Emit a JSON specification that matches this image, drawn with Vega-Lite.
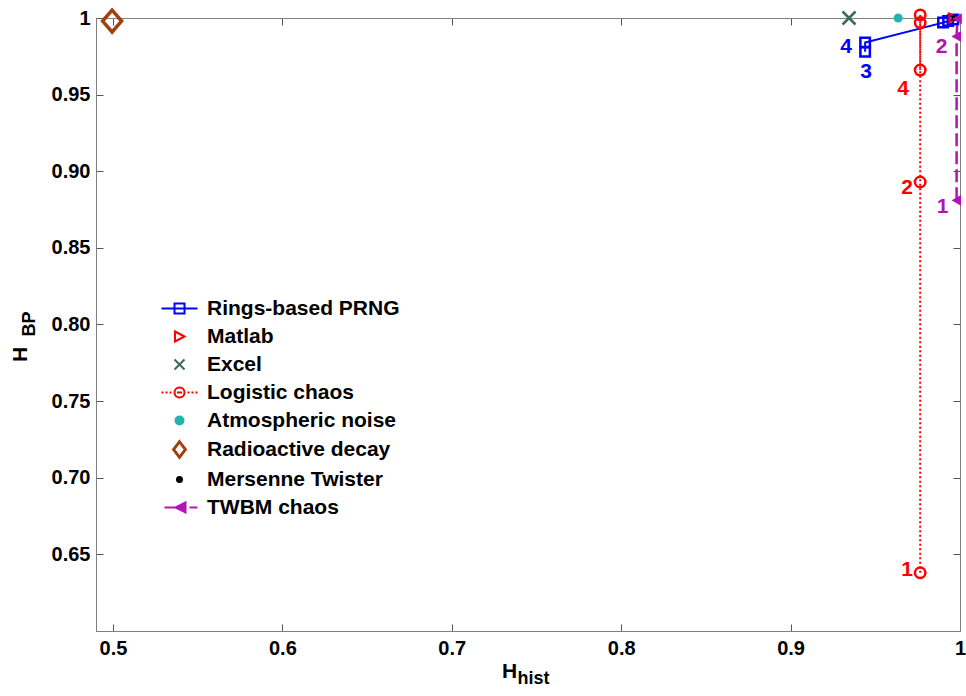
{
  "$schema": "https://vega.github.io/schema/vega-lite/v6.json",
  "width": 864,
  "height": 613,
  "autosize": {"type": "none"},
  "padding": {"left": 96, "top": 18, "right": 6, "bottom": 65},
  "background": "white",
  "config": {
    "view": {"stroke": "#808080", "strokeWidth": 1},
    "font": "Liberation Sans"
  },
  "datasets": {
    "pts": [
      {"series": "Rings-based PRNG", "seq": 1, "hist": 0.944, "bp": 0.978, "label": "3"},
      {"series": "Rings-based PRNG", "seq": 2, "hist": 0.944, "bp": 0.984, "label": "4"},
      {"series": "Rings-based PRNG", "seq": 3, "hist": 0.990, "bp": 0.997, "label": ""},
      {"series": "Rings-based PRNG", "seq": 4, "hist": 0.993, "bp": 0.998, "label": ""},
      {"series": "Rings-based PRNG", "seq": 5, "hist": 0.996, "bp": 0.999, "label": ""},
      {"series": "Matlab", "seq": 1, "hist": 0.996, "bp": 1.0, "label": ""},
      {"series": "Excel", "seq": 1, "hist": 0.9345, "bp": 1.0, "label": ""},
      {"series": "Logistic chaos", "seq": 1, "hist": 0.9765, "bp": 0.638, "label": "1"},
      {"series": "Logistic chaos", "seq": 2, "hist": 0.9765, "bp": 0.893, "label": "2"},
      {"series": "Logistic chaos", "seq": 3, "hist": 0.9765, "bp": 1.002, "label": ""},
      {"series": "Logistic chaos", "seq": 4, "hist": 0.9765, "bp": 0.966, "label": "4"},
      {"series": "Logistic chaos", "seq": 5, "hist": 0.9765, "bp": 0.997, "label": ""},
      {"series": "Atmospheric noise", "seq": 1, "hist": 0.9635, "bp": 1.0, "label": ""},
      {"series": "Radioactive decay", "seq": 1, "hist": 0.4995, "bp": 0.998, "label": ""},
      {"series": "Mersenne Twister", "seq": 1, "hist": 0.997, "bp": 1.0, "label": ""},
      {"series": "TWBM chaos", "seq": 1, "hist": 0.998, "bp": 0.881, "label": "1"},
      {"series": "TWBM chaos", "seq": 2, "hist": 0.998, "bp": 0.988, "label": "2"},
      {"series": "TWBM chaos", "seq": 3, "hist": 0.9985, "bp": 0.9995, "label": ""}
    ]
  },
  "data": {"name": "pts"},
  "resolve": {"axis": {"x": "independent", "y": "independent"}},
  "layer": [
    {
      "transform": [{"filter": "datum.series == 'Rings-based PRNG'"}],
      "mark": {"type": "line", "color": "#0000ff", "strokeWidth": 2},
      "encoding": {
        "x": {"field": "hist", "type": "quantitative",
          "scale": {"domain": [0.49, 1], "nice": false, "zero": false},
          "axis": {"orient": "bottom", "values": [0.5, 0.6, 0.7, 0.8, 0.9, 1], "grid": false,
            "labelFont": "Liberation Sans", "labelFontSize": 20, "labelFontWeight": "bold", "labelColor": "black",
            "labelFlush": false, "labelPadding": 14, "labelExpr": "format(datum.value, '.1~f')",
            "tickSize": -7, "tickColor": "#555555", "domainColor": "#808080",
            "title": "H", "titleFont": "Liberation Sans", "titleFontSize": 21, "titleFontWeight": "bold", "titleColor": "black",
            "titleX": 413, "titleY": 46, "titleAlign": "center", "titleBaseline": "alphabetic"}},
        "y": {"field": "bp", "type": "quantitative",
          "scale": {"domain": [0.6, 1], "nice": false, "zero": false},
          "axis": {"orient": "left", "values": [0.65, 0.7, 0.75, 0.8, 0.85, 0.9, 0.95, 1], "grid": false,
            "labelFont": "Liberation Sans", "labelFontSize": 20, "labelFontWeight": "bold", "labelColor": "black",
            "labelFlush": false, "labelPadding": 13, "labelExpr": "datum.value == 1 ? '1' : format(datum.value, '.2f')",
            "tickSize": -7, "tickColor": "#555555", "domainColor": "#808080",
            "title": "H", "titleFont": "Liberation Sans", "titleFontSize": 21, "titleFontWeight": "bold", "titleColor": "black",
            "titleAngle": 270, "titleX": -70, "titleY": 336, "titleAlign": "center", "titleBaseline": "alphabetic"}},
        "order": {"field": "seq", "type": "quantitative"}
      }
    },
    {
      "transform": [{"filter": "datum.series == 'Logistic chaos'"}],
      "mark": {"type": "line", "color": "#ff0000", "strokeWidth": 2, "strokeDash": [2, 2.5]},
      "encoding": {
        "x": {"field": "hist", "type": "quantitative",
          "axis": {"orient": "bottom", "labels": false, "ticks": false, "domain": false, "grid": false,
            "title": "hist", "titleFont": "Liberation Sans", "titleFontSize": 18, "titleFontWeight": "bold", "titleColor": "black",
            "titleX": 421, "titleY": 52, "titleAlign": "left", "titleBaseline": "alphabetic"}},
        "y": {"field": "bp", "type": "quantitative",
          "axis": {"orient": "left", "labels": false, "ticks": false, "domain": false, "grid": false,
            "title": "BP", "titleFont": "Liberation Sans", "titleFontSize": 18, "titleFontWeight": "bold", "titleColor": "black",
            "titleAngle": 270, "titleX": -62, "titleY": 318, "titleAlign": "left", "titleBaseline": "alphabetic"}},
        "order": {"field": "seq", "type": "quantitative"}
      }
    },
    {
      "transform": [{"filter": "datum.series == 'TWBM chaos'"}],
      "mark": {"type": "line", "color": "#b512b5", "strokeWidth": 2.5, "strokeDash": [13, 5]},
      "encoding": {
        "x": {"field": "hist", "type": "quantitative",
          "axis": {"orient": "top", "values": [0.5, 0.6, 0.7, 0.8, 0.9, 1], "labels": false, "grid": false,
            "tickSize": -7, "tickColor": "#555555", "domainColor": "#808080", "title": null}},
        "y": {"field": "bp", "type": "quantitative",
          "axis": {"orient": "right", "values": [0.65, 0.7, 0.75, 0.8, 0.85, 0.9, 0.95, 1], "labels": false, "grid": false,
            "tickSize": -7, "tickColor": "#555555", "domainColor": "#808080", "title": null}},
        "order": {"field": "seq", "type": "quantitative"}
      }
    },
    {
      "transform": [{"filter": "datum.series == 'Rings-based PRNG'"}],
      "mark": {"type": "point", "shape": "square", "filled": false, "stroke": "#0000ff", "strokeWidth": 2.5, "size": 90, "opacity": 1},
      "encoding": {
        "x": {"field": "hist", "type": "quantitative", "axis": null},
        "y": {"field": "bp", "type": "quantitative", "axis": null}
      }
    },
    {
      "transform": [{"filter": "datum.series == 'Logistic chaos'"}],
      "mark": {"type": "point", "shape": "circle", "filled": false, "stroke": "#ff0000", "strokeWidth": 2.5, "size": 110, "opacity": 1},
      "encoding": {
        "x": {"field": "hist", "type": "quantitative", "axis": null},
        "y": {"field": "bp", "type": "quantitative", "axis": null}
      }
    },
    {
      "transform": [{"filter": "datum.series == 'Excel'"}],
      "mark": {"type": "point", "shape": "M-1,-1L1,1M-1,1L1,-1", "filled": false, "stroke": "#3b6b58", "strokeWidth": 2.5, "size": 169, "opacity": 1},
      "encoding": {
        "x": {"field": "hist", "type": "quantitative", "axis": null},
        "y": {"field": "bp", "type": "quantitative", "axis": null}
      }
    },
    {
      "transform": [{"filter": "datum.series == 'Atmospheric noise'"}],
      "mark": {"type": "point", "shape": "circle", "filled": true, "fill": "#22b4b0", "strokeWidth": 0, "size": 80, "opacity": 1},
      "encoding": {
        "x": {"field": "hist", "type": "quantitative", "axis": null},
        "y": {"field": "bp", "type": "quantitative", "axis": null}
      }
    },
    {
      "transform": [{"filter": "datum.series == 'Radioactive decay'"}],
      "mark": {"type": "point", "shape": "M0,-1.15L1,0L0,1.15L-1,0Z", "filled": false, "stroke": "#a23f0e", "strokeWidth": 3.5, "size": 361, "opacity": 1},
      "encoding": {
        "x": {"field": "hist", "type": "quantitative", "axis": null},
        "y": {"field": "bp", "type": "quantitative", "axis": null}
      }
    },
    {
      "transform": [{"filter": "datum.series == 'Matlab'"}],
      "mark": {"type": "point", "shape": "triangle-right", "filled": false, "stroke": "#ff0000", "strokeWidth": 2, "size": 80, "opacity": 1},
      "encoding": {
        "x": {"field": "hist", "type": "quantitative", "axis": null},
        "y": {"field": "bp", "type": "quantitative", "axis": null}
      }
    },
    {
      "transform": [{"filter": "datum.series == 'Mersenne Twister'"}],
      "mark": {"type": "point", "shape": "circle", "filled": true, "fill": "black", "strokeWidth": 0, "size": 40, "opacity": 1},
      "encoding": {
        "x": {"field": "hist", "type": "quantitative", "axis": null},
        "y": {"field": "bp", "type": "quantitative", "axis": null}
      }
    },
    {
      "transform": [{"filter": "datum.series == 'TWBM chaos'"}],
      "mark": {"type": "point", "shape": "triangle-left", "filled": true, "fill": "#b512b5", "stroke": "#b512b5", "strokeWidth": 1.5, "size": 70, "opacity": 1},
      "encoding": {
        "x": {"field": "hist", "type": "quantitative", "axis": null},
        "y": {"field": "bp", "type": "quantitative", "axis": null}
      }
    },
    {
      "transform": [{"filter": "datum.series == 'Rings-based PRNG' && datum.label == '4'"}],
      "mark": {"type": "text", "dx": -19, "dy": 4, "color": "#0000ff", "font": "Liberation Sans", "fontSize": 21, "fontWeight": "bold", "align": "center", "baseline": "middle"},
      "encoding": {
        "x": {"field": "hist", "type": "quantitative", "axis": null},
        "y": {"field": "bp", "type": "quantitative", "axis": null},
        "text": {"field": "label"}
      }
    },
    {
      "transform": [{"filter": "datum.series == 'Rings-based PRNG' && datum.label == '3'"}],
      "mark": {"type": "text", "dx": 1, "dy": 20, "color": "#0000ff", "font": "Liberation Sans", "fontSize": 21, "fontWeight": "bold", "align": "center", "baseline": "middle"},
      "encoding": {
        "x": {"field": "hist", "type": "quantitative", "axis": null},
        "y": {"field": "bp", "type": "quantitative", "axis": null},
        "text": {"field": "label"}
      }
    },
    {
      "transform": [{"filter": "datum.series == 'Logistic chaos' && datum.label == '4'"}],
      "mark": {"type": "text", "dx": -17, "dy": 19, "color": "#ff0000", "font": "Liberation Sans", "fontSize": 21, "fontWeight": "bold", "align": "center", "baseline": "middle"},
      "encoding": {
        "x": {"field": "hist", "type": "quantitative", "axis": null},
        "y": {"field": "bp", "type": "quantitative", "axis": null},
        "text": {"field": "label"}
      }
    },
    {
      "transform": [{"filter": "datum.series == 'Logistic chaos' && datum.label == '2'"}],
      "mark": {"type": "text", "dx": -13, "dy": 6, "color": "#ff0000", "font": "Liberation Sans", "fontSize": 21, "fontWeight": "bold", "align": "center", "baseline": "middle"},
      "encoding": {
        "x": {"field": "hist", "type": "quantitative", "axis": null},
        "y": {"field": "bp", "type": "quantitative", "axis": null},
        "text": {"field": "label"}
      }
    },
    {
      "transform": [{"filter": "datum.series == 'Logistic chaos' && datum.label == '1'"}],
      "mark": {"type": "text", "dx": -13, "dy": -3, "color": "#ff0000", "font": "Liberation Sans", "fontSize": 21, "fontWeight": "bold", "align": "center", "baseline": "middle"},
      "encoding": {
        "x": {"field": "hist", "type": "quantitative", "axis": null},
        "y": {"field": "bp", "type": "quantitative", "axis": null},
        "text": {"field": "label"}
      }
    },
    {
      "transform": [{"filter": "datum.series == 'TWBM chaos' && datum.label == '2'"}],
      "mark": {"type": "text", "dx": -15, "dy": 11, "color": "#b512b5", "font": "Liberation Sans", "fontSize": 21, "fontWeight": "bold", "align": "center", "baseline": "middle"},
      "encoding": {
        "x": {"field": "hist", "type": "quantitative", "axis": null},
        "y": {"field": "bp", "type": "quantitative", "axis": null},
        "text": {"field": "label"}
      }
    },
    {
      "transform": [{"filter": "datum.series == 'TWBM chaos' && datum.label == '1'"}],
      "mark": {"type": "text", "dx": -14, "dy": 7, "color": "#b512b5", "font": "Liberation Sans", "fontSize": 21, "fontWeight": "bold", "align": "center", "baseline": "middle"},
      "encoding": {
        "x": {"field": "hist", "type": "quantitative", "axis": null},
        "y": {"field": "bp", "type": "quantitative", "axis": null},
        "text": {"field": "label"}
      }
    },
    {
      "transform": [{"filter": "datum.hist < 0"}],
      "mark": {"type": "point", "filled": true, "clip": true, "strokeWidth": 2, "opacity": 1},
      "encoding": {
        "x": {"field": "hist", "type": "quantitative", "axis": null},
        "y": {"field": "bp", "type": "quantitative", "axis": null},
        "shape": {"field": "series", "type": "nominal",
          "scale": {"domain": ["Rings-based PRNG", "Matlab", "Excel", "Logistic chaos", "Atmospheric noise", "Radioactive decay", "Mersenne Twister", "TWBM chaos"],
            "range": [
              "M-3.6,0H3.6M-1,-1H1V1H-1Z",
              "M-0.9,-1L1,0L-0.9,1Z",
              "M-1,-1L1,1M-1,1L1,-1",
              "M-3.6,0H-3.2M-2.8,0H-2.4M-2.0,0H-1.6M1.6,0H2.0M2.4,0H2.8M3.2,0H3.6M1,0A1,1 0 1,1 -1,0A1,1 0 1,1 1,0ZM-0.5,0H0.5",
              "M0.8,0A0.8,0.8 0 1,1 -0.8,0A0.8,0.8 0 1,1 0.8,0Z",
              "M0,-1.7L1.3,0L0,1.7L-1.3,0ZM0,-1.4L1.05,0L0,1.4L-1.05,0Z",
              "M0.5,0A0.5,0.5 0 1,1 -0.5,0A0.5,0.5 0 1,1 0.5,0Z",
              "M-3,0H-0.8M2,0H3.6M1.2,-1L-0.8,0L1.2,1Z"
            ]},
          "legend": {"orient": "none", "legendX": 73, "legendY": 280, "title": null, "padding": 0,
            "symbolSize": 100, "symbolStrokeWidth": 2, "labelFont": "Liberation Sans", "labelFontSize": 21, "labelFontWeight": "bold",
            "labelColor": "black", "labelOffset": 17, "labelLimit": 400, "rowPadding": 6}},
        "stroke": {"field": "series", "type": "nominal",
          "scale": {"domain": ["Rings-based PRNG", "Matlab", "Excel", "Logistic chaos", "Atmospheric noise", "Radioactive decay", "Mersenne Twister", "TWBM chaos"],
            "range": ["#0000ff", "#ff0000", "#3b6b58", "#ff0000", "#22b4b0", "#a23f0e", "black", "#b512b5"]},
          "legend": {"orient": "none", "legendX": 73, "legendY": 280, "title": null, "padding": 0,
            "symbolSize": 100, "symbolStrokeWidth": 2, "labelFont": "Liberation Sans", "labelFontSize": 21, "labelFontWeight": "bold",
            "labelColor": "black", "labelOffset": 17, "labelLimit": 400, "rowPadding": 6}},
        "fill": {"field": "series", "type": "nominal",
          "scale": {"domain": ["Rings-based PRNG", "Matlab", "Excel", "Logistic chaos", "Atmospheric noise", "Radioactive decay", "Mersenne Twister", "TWBM chaos"],
            "range": ["transparent", "transparent", "transparent", "transparent", "#22b4b0", "transparent", "black", "#b512b5"]},
          "legend": {"orient": "none", "legendX": 73, "legendY": 280, "title": null, "padding": 0,
            "symbolSize": 100, "symbolStrokeWidth": 2, "labelFont": "Liberation Sans", "labelFontSize": 21, "labelFontWeight": "bold",
            "labelColor": "black", "labelOffset": 17, "labelLimit": 400, "rowPadding": 6}}
      }
    }
  ]
}
